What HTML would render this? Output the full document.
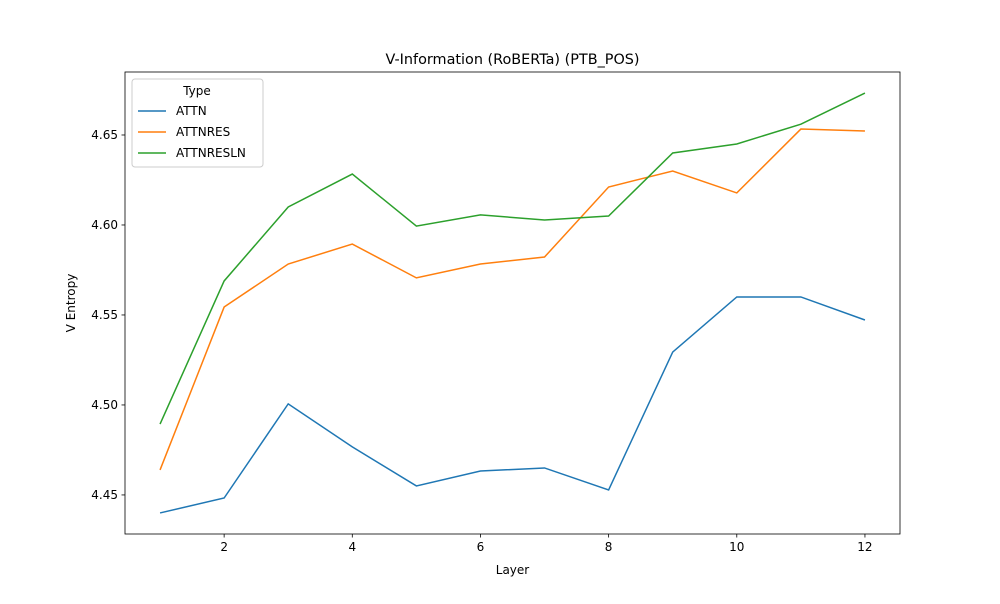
<!DOCTYPE html>
<html><head><meta charset="utf-8"><style>
body{margin:0;background:#fff;font-family:"DejaVu Sans","Liberation Sans",sans-serif;}
svg text{font-family:"DejaVu Sans","Liberation Sans",sans-serif;}
</style></head><body>
<svg id="chart" width="1000" height="600" xmlns="http://www.w3.org/2000/svg">
<rect width="1000" height="600" fill="#fff"/>
<g id="plot"></g>
</svg>
<script>
const layers=[1,2,3,4,5,6,7,8,9,10,11,12];
const attn=[4.440,4.4483,4.5006,4.4767,4.455,4.4633,4.465,4.4528,4.5294,4.56,4.56,4.5472];
const attnres=[4.4639,4.5544,4.5783,4.5894,4.5706,4.5783,4.5822,4.6211,4.630,4.6178,4.6533,4.6522];
const attnresln=[4.4894,4.5689,4.610,4.6283,4.5994,4.6056,4.6028,4.605,4.640,4.645,4.656,4.6733];
const xTicks=[2,4,6,8,10,12];
const yTicks=[4.45,4.50,4.55,4.60,4.65];
const yTickLabels=["4.45","4.50","4.55","4.60","4.65"];
const seriesNames=["ATTN","ATTNRES","ATTNRESLN"];
const colors=["#1f77b4","#ff7f0e","#2ca02c"];

const L=125,R=900,T=72,B=534;
const xMin=0.453,xMax=12.547,yMin=4.4283,yMax=4.685;
const X=v=>L+(v-xMin)/(xMax-xMin)*(R-L);
const Y=v=>B-(v-yMin)/(yMax-yMin)*(B-T);
const NS="http://www.w3.org/2000/svg";
const g=document.getElementById('plot');
function mk(tag,attrs,parent){const e=document.createElementNS(NS,tag);for(const k in attrs)e.setAttribute(k,attrs[k]);(parent||g).appendChild(e);return e;}

xTicks.forEach(t=>{
  const l=mk('line',{x1:X(t),x2:X(t),y1:B,y2:B+3.5,stroke:'#000','stroke-width':0.8});
  
  
  const tx=mk('text',{x:X(t),y:B+17,'font-size':12,'text-anchor':'middle'});
  tx.textContent=t;
  
  
});
yTicks.forEach((t,i)=>{
  const l=mk('line',{x1:L-3.5,x2:L,y1:Y(t),y2:Y(t),stroke:'#000','stroke-width':0.8});
  
  
  const tx=mk('text',{x:L-7,y:Y(t)+4,'font-size':12,'text-anchor':'end'});
  tx.textContent=yTickLabels[i];
  
  
});
[attn,attnres,attnresln].forEach((s,i)=>{
  const p=mk('polyline',{points:s.map((v,j)=>X(layers[j])+','+Y(v)).join(' '),fill:'none',stroke:colors[i],'stroke-width':1.5});
  
  
});
const frame=mk('rect',{x:L,y:T,width:R-L,height:B-T,fill:'none',stroke:'#000','stroke-width':0.8});



const title=mk('text',{x:(L+R)/2,y:64,'font-size':14.4,'text-anchor':'middle'});
title.textContent='V-Information (RoBERTa) (PTB_POS)';


const xl=mk('text',{x:(L+R)/2,y:574,'font-size':12,'text-anchor':'middle'});
xl.textContent='Layer';


const yl=mk('text',{x:0,y:0,'font-size':12,'text-anchor':'middle',transform:'translate(75,303) rotate(-90)'});
yl.textContent='V Entropy';



const lg=mk('g',{});


mk('rect',{x:132,y:79,width:131,height:88,rx:3,fill:'#fff',stroke:'#ccc','stroke-width':1},lg);
const lt=mk('text',{x:197,y:95,'font-size':12,'text-anchor':'middle'},lg);
lt.textContent='Type';


seriesNames.forEach((n,i)=>{
  const y=111+i*21;
  const ll=mk('line',{x1:138,x2:166,y1:y,y2:y,stroke:colors[i],'stroke-width':1.5},lg);
  
  
  const t=mk('text',{x:176,y:y+4,'font-size':12},lg);
  t.textContent=n;
  
  
});
</script>
</body></html>
